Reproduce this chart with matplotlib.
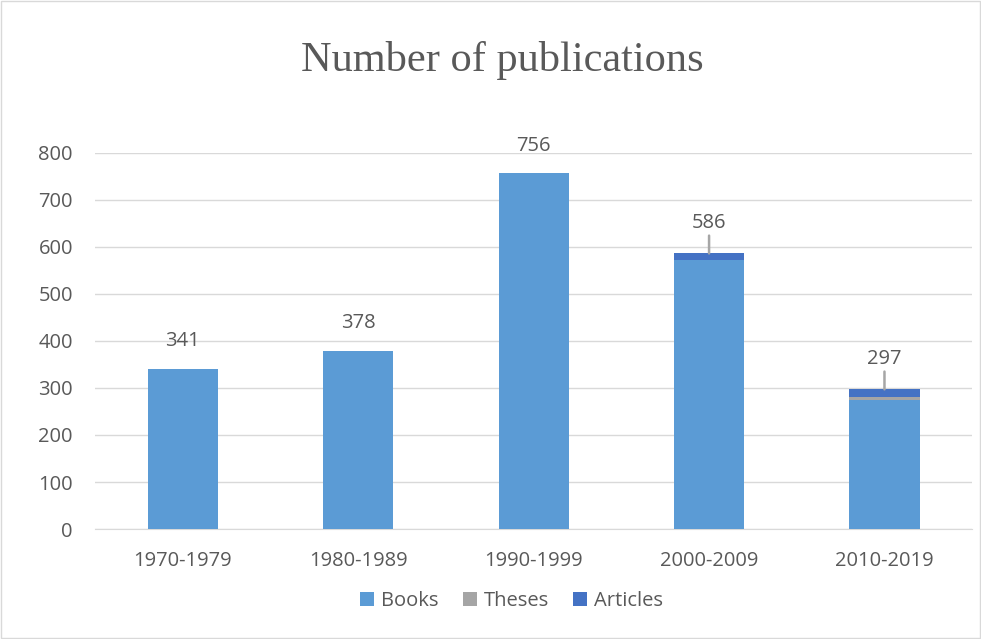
import matplotlib.pyplot as plt
from matplotlib.patches import Rectangle

periods = ["1970-1979", "1980-1989", "1990-1999", "2000-2009", "2010-2019"]
books = [341, 378, 756, 571, 275]
theses = [0, 0, 0, 2, 5]
articles = [0, 0, 0, 13, 17]
totals = [341, 378, 756, 586, 297]

BOOKS_COLOR = "#5B9BD5"
THESES_COLOR = "#A5A5A5"
ARTICLES_COLOR = "#4472C4"
TEXT_COLOR = "#595959"
GRID_COLOR = "#D9D9D9"
FS = 14.5

plt.rcParams["font.family"] = ["Open Sans", "DejaVu Sans"]

fig = plt.figure(figsize=(9.81, 6.39), dpi=100)
ax = fig.add_axes([0.097, 0.172, 0.894, 0.589])

x = list(range(len(periods)))
width = 0.4

ax.bar(x, books, width, color=BOOKS_COLOR, label="Books", zorder=2)
ax.bar(x, theses, width, bottom=books, color=THESES_COLOR, label="Theses", zorder=2)
bottom_articles = [b + t for b, t in zip(books, theses)]
ax.bar(x, articles, width, bottom=bottom_articles, color=ARTICLES_COLOR,
       label="Articles", zorder=2)

# total labels above each stack, with leader lines where the stack is split
for xi, total, art in zip(x, totals, articles):
    if art > 0:
        ax.annotate(str(total), xy=(xi, total), xytext=(0, 22),
                    textcoords="offset points", ha="center", va="center",
                    fontsize=FS, color=TEXT_COLOR,
                    arrowprops=dict(arrowstyle="-", color="#A6A6A6", lw=1.8,
                                    shrinkA=0, shrinkB=0))
    else:
        ax.annotate(str(total), xy=(xi, total), xytext=(0, 20),
                    textcoords="offset points", ha="center", va="center",
                    fontsize=FS, color=TEXT_COLOR)

ax.set_xlim(-0.5, len(periods) - 0.5)
ax.set_ylim(0, 800)
ax.set_yticks(range(0, 801, 100))
ax.set_xticks(x)
ax.set_xticklabels(periods)
ax.tick_params(axis="both", length=0, labelsize=FS, labelcolor=TEXT_COLOR)
ax.tick_params(axis="y", pad=16)
ax.tick_params(axis="x", pad=16)

ax.grid(axis="y", color=GRID_COLOR, linewidth=1, zorder=0)
for side in ["top", "right", "left"]:
    ax.spines[side].set_visible(False)
ax.spines["bottom"].set_color(GRID_COLOR)
ax.spines["bottom"].set_zorder(1)

fig.text(0.512, 0.906, "Number of publications", ha="center", va="center",
         fontsize=30.5, color=TEXT_COLOR, family=["Liberation Serif", "DejaVu Serif"])

ax.legend(loc="center", bbox_to_anchor=(0.475, -0.19), ncol=3, frameon=False,
          fontsize=FS, labelcolor=TEXT_COLOR, handlelength=0.7,
          handleheight=0.7, handletextpad=0.35, columnspacing=1.2)

fig.patches.append(Rectangle((0.001, 0.001), 0.998, 0.998, transform=fig.transFigure,
                             fill=False, edgecolor=GRID_COLOR, linewidth=1))

fig.savefig("out.png", dpi=100)
